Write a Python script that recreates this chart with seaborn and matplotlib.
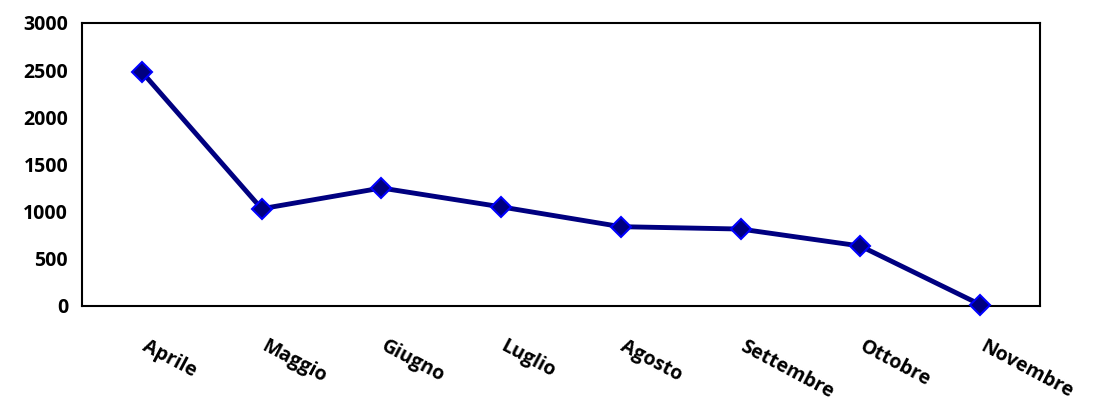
import numpy as np
import pandas as pd
import matplotlib
matplotlib.use("Agg")
import matplotlib.pyplot as plt
import seaborn as sns

mesi = ["Aprile", "Maggio", "Giugno", "Luglio", "Agosto", "Settembre", "Ottobre", "Novembre"]
valori = [2480, 1030, 1250, 1050, 840, 815, 635, 15]
y_ticks = [0, 500, 1000, 1500, 2000, 2500, 3000]

sns.set_style("white")
plt.rcParams['font.family'] = ['Open Sans', 'DejaVu Sans']
plt.rcParams['text.color'] = 'black'
plt.rcParams['xtick.color'] = 'black'
plt.rcParams['ytick.color'] = 'black'

df = pd.DataFrame({"mese": mesi, "valore": valori})

fig = plt.figure(figsize=(10.94, 4.09), dpi=100)
ax = fig.add_axes([0.075, 0.252, 0.8756, 0.692])

sns.lineplot(data=df, x="mese", y="valore", ax=ax, sort=False,
             color="#000080", linewidth=3.5, marker="D", markersize=10,
             markerfacecolor="#000080", markeredgecolor="#0000FF", markeredgewidth=1.5,
             clip_on=False, zorder=5)

ax.set_xlim(-0.5, len(mesi) - 0.5)
ax.set_ylim(0, 3000)
ax.set_yticks(y_ticks)
ax.set_yticklabels([str(v) for v in y_ticks], fontsize=14, fontweight="bold")

# tick marks at category boundaries, labels at centres
ax.set_xticks(np.arange(-0.5, len(mesi), 1.0))
ax.set_xticklabels([])
ax.set_xticks(np.arange(len(mesi)) + 0.05, minor=True)
ax.set_xticklabels(mesi, minor=True, rotation=-28, ha="left", va="top",
                   rotation_mode="anchor", fontsize=14, fontweight="bold")
ax.tick_params(axis="x", which="minor", length=0, pad=22)
ax.tick_params(axis="x", which="major", direction="out", length=6, width=1.5, color="black")
ax.tick_params(axis="y", direction="out", length=6, width=1.5, color="black", pad=4)

for s in ax.spines.values():
    s.set_visible(True)
    s.set_color("black")
    s.set_linewidth(1.5)

ax.set_xlabel("")
ax.set_ylabel("")

fig.savefig("out.png", dpi=100)
